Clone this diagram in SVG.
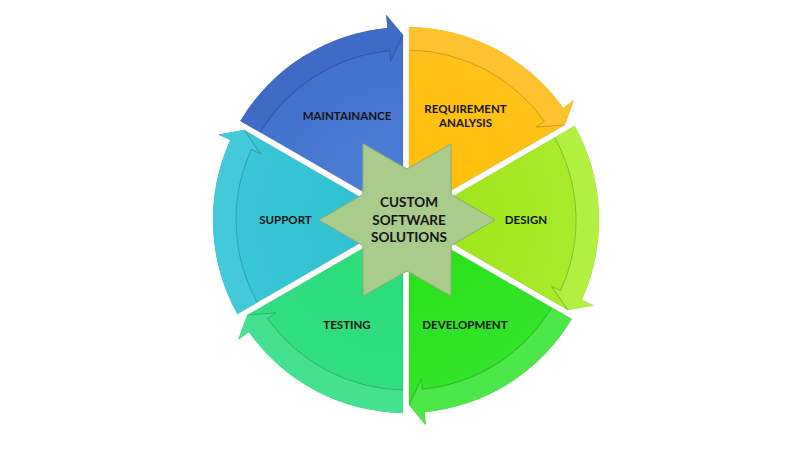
<svg xmlns="http://www.w3.org/2000/svg" xmlns:xlink="http://www.w3.org/1999/xlink" width="800" height="450" viewBox="0 0 800 450">
<style>
.lbl{font-family:Lato,"Open Sans","Liberation Sans",sans-serif;font-weight:bold;font-size:11.5px;fill:#141414;text-anchor:middle}
.ctr{font-family:Lato,"Open Sans","Liberation Sans",sans-serif;font-weight:bold;font-size:13.5px;fill:#141414;text-anchor:middle}
.edge{stroke:rgba(0,0,0,0.12);stroke-width:0.8}
.bline{fill:none;stroke:rgba(0,0,0,0.2);stroke-width:1}
</style>
<defs>
<path id="sector" d="M3 -5.2 L3 -192.98 A193 193 0 0 1 157.13 -112.08 L167.71 -119.62 L158.71 -95.1 Z"/>
<path id="band" d="M3 -192.98 A193 193 0 0 1 157.13 -112.08 L167.71 -119.62 L158.71 -95.1 L130.26 -92.91 L138.4 -98.72 A170 170 0 0 0 3 -169.97 Z"/>
<path id="bline" d="M3 -169.97 A170 170 0 0 1 138.4 -98.72 L130.26 -92.91 L158.71 -95.1"/>
<radialGradient id="gBlue" gradientUnits="userSpaceOnUse" cx="0" cy="0" r="193"><stop offset="0.3" stop-color="#4C7DD5"/><stop offset="1" stop-color="#4170CA"/></radialGradient>
<radialGradient id="gOrange" gradientUnits="userSpaceOnUse" cx="0" cy="0" r="193"><stop offset="0.3" stop-color="#FFBF0A"/><stop offset="1" stop-color="#FFC21C"/></radialGradient>
<radialGradient id="gLime" gradientUnits="userSpaceOnUse" cx="0" cy="0" r="193"><stop offset="0.3" stop-color="#A0E61C"/><stop offset="1" stop-color="#AAEC2C"/></radialGradient>
<radialGradient id="gGreen" gradientUnits="userSpaceOnUse" cx="0" cy="0" r="193"><stop offset="0.3" stop-color="#2AE21C"/><stop offset="1" stop-color="#34E42C"/></radialGradient>
<radialGradient id="gTeal" gradientUnits="userSpaceOnUse" cx="0" cy="0" r="193"><stop offset="0.3" stop-color="#2ADC7C"/><stop offset="1" stop-color="#34DE84"/></radialGradient>
<radialGradient id="gCyan" gradientUnits="userSpaceOnUse" cx="0" cy="0" r="193"><stop offset="0.3" stop-color="#30C2D4"/><stop offset="1" stop-color="#3AC6D6"/></radialGradient>
</defs>
<rect width="800" height="450" fill="#ffffff"/>

<g id="connectors"></g>

<g id="requirement-analysis">
<g transform="translate(406 220) rotate(0)">
<use xlink:href="#sector" href="#sector" fill="url(#gOrange)" class="edge"/>
<use xlink:href="#band" href="#band" fill="#FDC22E"/>
<use xlink:href="#bline" href="#bline" class="bline"/>
</g>
<text class="lbl" x="465.5" y="113">REQUIREMENT</text>
<text class="lbl" x="465.5" y="127">ANALYSIS</text>
</g>

<g id="design">
<g transform="translate(406 220) rotate(60)">
<use xlink:href="#sector" href="#sector" fill="url(#gLime)" class="edge"/>
<use xlink:href="#band" href="#band" fill="#B2F042"/>
<use xlink:href="#bline" href="#bline" class="bline"/>
</g>
<text class="lbl" x="526" y="224">DESIGN</text>
</g>

<g id="development">
<g transform="translate(406 220) rotate(120)">
<use xlink:href="#sector" href="#sector" fill="url(#gGreen)" class="edge"/>
<use xlink:href="#band" href="#band" fill="#4CE84A"/>
<use xlink:href="#bline" href="#bline" class="bline"/>
</g>
<text class="lbl" x="465" y="329">DEVELOPMENT</text>
</g>

<g id="testing">
<g transform="translate(406 220) rotate(180)">
<use xlink:href="#sector" href="#sector" fill="url(#gTeal)" class="edge"/>
<use xlink:href="#band" href="#band" fill="#44E290"/>
<use xlink:href="#bline" href="#bline" class="bline"/>
</g>
<text class="lbl" x="347" y="329">TESTING</text>
</g>

<g id="support">
<g transform="translate(406 220) rotate(240)">
<use xlink:href="#sector" href="#sector" fill="url(#gCyan)" class="edge"/>
<use xlink:href="#band" href="#band" fill="#42CADA"/>
<use xlink:href="#bline" href="#bline" class="bline"/>
</g>
<text class="lbl" x="285.5" y="224">SUPPORT</text>
</g>

<g id="maintainance">
<g transform="translate(406 220) rotate(300)">
<use xlink:href="#sector" href="#sector" fill="url(#gBlue)" class="edge"/>
<use xlink:href="#band" href="#band" fill="#3F6BC6"/>
<use xlink:href="#bline" href="#bline" class="bline"/>
</g>
<text class="lbl" x="347" y="120">MAINTAINANCE</text>
</g>

<g id="custom-software-solutions">
<polygon points="407,169 451,143.8 451.2,194.5 495,220 451.2,245.5 451,296.2 407,271 363,296.2 362.8,245.5 319,220 362.8,194.5 363,143.8" fill="#A9CB8C" stroke="#8EA878" stroke-width="1"/>
<text class="ctr" x="409" y="207">CUSTOM</text>
<text class="ctr" x="409" y="224.5">SOFTWARE</text>
<text class="ctr" x="409" y="242">SOLUTIONS</text>
</g>
</svg>
